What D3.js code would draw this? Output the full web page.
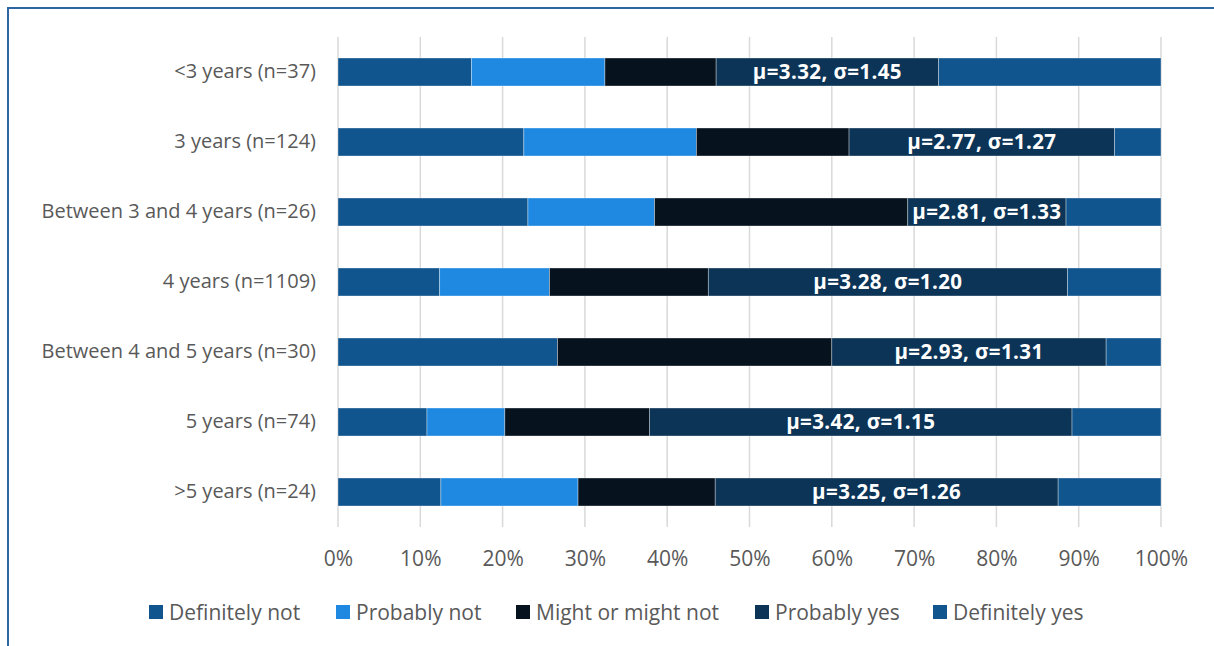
<!DOCTYPE html>
<html>
<head>
<meta charset="utf-8">
<script src="https://cdn.jsdelivr.net/npm/d3@7"></script>
<style>
  html, body { margin: 0; padding: 0; background: #ffffff; }
  svg { display: block; font-family: "Open Sans", "Noto Sans", sans-serif; }
</style>
</head>
<body>
<svg id="chart" width="1214" height="646"></svg>
<script>
// Time-to-degree groups, top to bottom
const categories = [
  "<3 years (n=37)",
  "3 years (n=124)",
  "Between 3 and 4 years (n=26)",
  "4 years (n=1109)",
  "Between 4 and 5 years (n=30)",
  "5 years (n=74)",
  ">5 years (n=24)"
];
const groupSize = [37, 124, 26, 1109, 30, 74, 24];

// Response counts per group
const definitelyNot = [6, 28, 6, 137, 8, 8, 3];
const probablyNot   = [6, 26, 4, 148, 0, 7, 4];
const mightOrNot    = [5, 23, 8, 214, 10, 13, 4];
const probablyYes   = [10, 40, 5, 484, 10, 38, 10];
const definitelyYes = [10, 7, 3, 126, 2, 8, 3];

const seriesNames = ["Definitely not", "Probably not", "Might or might not", "Probably yes", "Definitely yes"];
const seriesCounts = [definitelyNot, probablyNot, mightOrNot, probablyYes, definitelyYes];

// Mean and standard deviation labels per group
const meanLabels = [3.32, 2.77, 2.81, 3.28, 2.93, 3.42, 3.25];
const sdLabels   = [1.45, 1.27, 1.33, 1.20, 1.31, 1.15, 1.26];

const tickValues = [0, 0.1, 0.2, 0.3, 0.4, 0.5, 0.6, 0.7, 0.8, 0.9, 1.0];

const colors = ["#11558F", "#1F89E2", "#06131F", "#0B3457", "#11558F"];
const textGrey = "#595959";

const svg = d3.select("#chart");

// Outer frame
svg.append("path")
  .attr("d", "M8,646 L8,8 L1214,8")
  .attr("fill", "none")
  .attr("stroke", "#2E65A3")
  .attr("stroke-width", 2);

const x = d3.scaleLinear().domain([0, 1]).range([338, 1161]);
const y = d3.scaleBand().domain(categories).range([37, 527]).paddingInner(0.6).paddingOuter(0.3);

// Vertical gridlines
svg.append("g")
  .selectAll("line")
  .data(tickValues)
  .join("line")
  .attr("x1", d => x(d)).attr("x2", d => x(d))
  .attr("y1", 37).attr("y2", 527)
  .attr("stroke", "#D9D9D9")
  .attr("stroke-width", 1.5);

// Stack the shares
const rows = categories.map((c, i) => {
  const r = { cat: c };
  seriesNames.forEach((s, k) => { r[s] = seriesCounts[k][i] / groupSize[i]; });
  return r;
});
const stacked = d3.stack().keys(seriesNames)(rows);

svg.append("g")
  .selectAll("g")
  .data(stacked)
  .join("g")
  .attr("fill", (d, k) => colors[k])
  .selectAll("rect")
  .data(d => d)
  .join("rect")
  .attr("x", d => x(d[0]))
  .attr("width", d => Math.max(0, x(d[1]) - x(d[0])))
  .attr("y", d => y(d.data.cat))
  .attr("height", y.bandwidth())
  .attr("stroke", "rgba(255,255,255,0.45)")
  .attr("stroke-width", 0.75);

// Mean / SD labels centred in the "Probably yes" segment
const pyLayer = stacked[3];
svg.append("g")
  .selectAll("text")
  .data(pyLayer)
  .join("text")
  .attr("x", d => (x(d[0]) + x(d[1])) / 2)
  .attr("y", d => y(d.data.cat) + y.bandwidth() / 2)
  .attr("dy", "0.36em")
  .attr("text-anchor", "middle")
  .attr("fill", "#ffffff")
  .attr("font-weight", "bold")
  .attr("font-size", 20.5)
  .attr("letter-spacing", 0.4)
  .text((d, i) => `μ=${meanLabels[i].toFixed(2)}, σ=${sdLabels[i].toFixed(2)}`);

// Category labels
const yAxis = svg.append("g")
  .attr("transform", `translate(${x(0)},0)`)
  .call(d3.axisLeft(y).tickSize(0).tickPadding(22));
yAxis.select(".domain").remove();
yAxis.selectAll("text")
  .attr("font-family", "'Open Sans', 'Noto Sans', sans-serif")
  .attr("font-size", 20)
  .attr("fill", textGrey);

// Percentage axis
const xAxis = svg.append("g")
  .attr("transform", "translate(0,527)")
  .call(d3.axisBottom(x).tickValues(tickValues).tickFormat(d3.format(".0%")).tickSize(0).tickPadding(24));
xAxis.select(".domain").remove();
xAxis.selectAll("text")
  .attr("font-family", "'Open Sans', 'Noto Sans', sans-serif")
  .attr("font-size", 21)
  .attr("fill", textGrey);

// Legend
const legendX = [149, 336, 516, 755, 933];
const legend = svg.append("g")
  .selectAll("g")
  .data(seriesNames)
  .join("g")
  .attr("transform", (d, i) => `translate(${legendX[i]},605)`);
legend.append("rect")
  .attr("width", 14).attr("height", 14)
  .attr("fill", (d, i) => colors[i]);
legend.append("text")
  .attr("x", 20).attr("y", 15)
  .attr("font-size", 21)
  .attr("fill", textGrey)
  .text(d => d);
</script>
</body>
</html>
